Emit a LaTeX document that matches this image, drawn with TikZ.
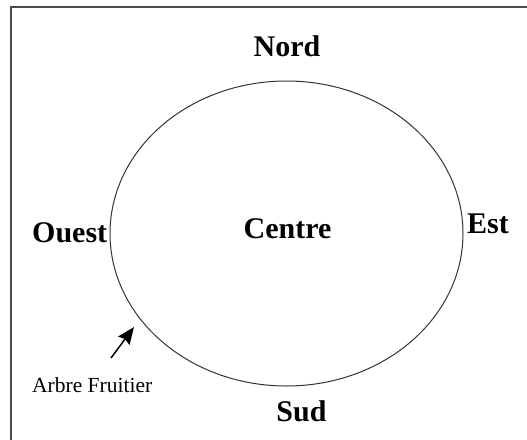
\documentclass[tikz,border=0pt]{standalone}
\usepackage{fontspec}
\setmainfont{Liberation Serif}
\usetikzlibrary{shapes.geometric,arrows.meta}
\begin{document}
\begin{tikzpicture}[x=1pt,y=-1pt,
  lbl/.style={font=\fontsize{30}{36}\selectfont\bfseries, inner sep=0pt, text=black},
  note/.style={font=\fontsize{21.5}{26}\selectfont, inner sep=0pt, text=black},
  frame/.style={draw=black!70, line width=1.5pt},
  ring/.style={draw=black!80, line width=1pt, ellipse, minimum width=353pt, minimum height=305pt, inner sep=0pt},
  pointer/.style={draw=black, line width=1.5pt, -{Stealth[length=17pt,width=14pt,inset=2pt]}}]
\useasboundingbox (0,0) rectangle (527,439);
\draw[frame] (11,440) -- (11,7) -- (528,7);
\node[ring] (field) at (286.5,233.5) {};
\node[lbl, anchor=base] (nord) at (287,56) {Nord};
\node[lbl, anchor=base west] (ouest) at (32,242) {Ouest};
\node[lbl, anchor=base] (centre) at (287.5,238) {Centre};
\node[lbl, anchor=base west] (est) at (467,233) {Est};
\node[lbl, anchor=base] (sud) at (301.5,421) {Sud};
\node[note, anchor=base west] (arbre) at (32,392) {Arbre Fruitier};
\coordinate (tail) at (111,358);
\coordinate (tip) at (134,327);
\draw[pointer] (tail) -- (tip);
\end{tikzpicture}
\end{document}
